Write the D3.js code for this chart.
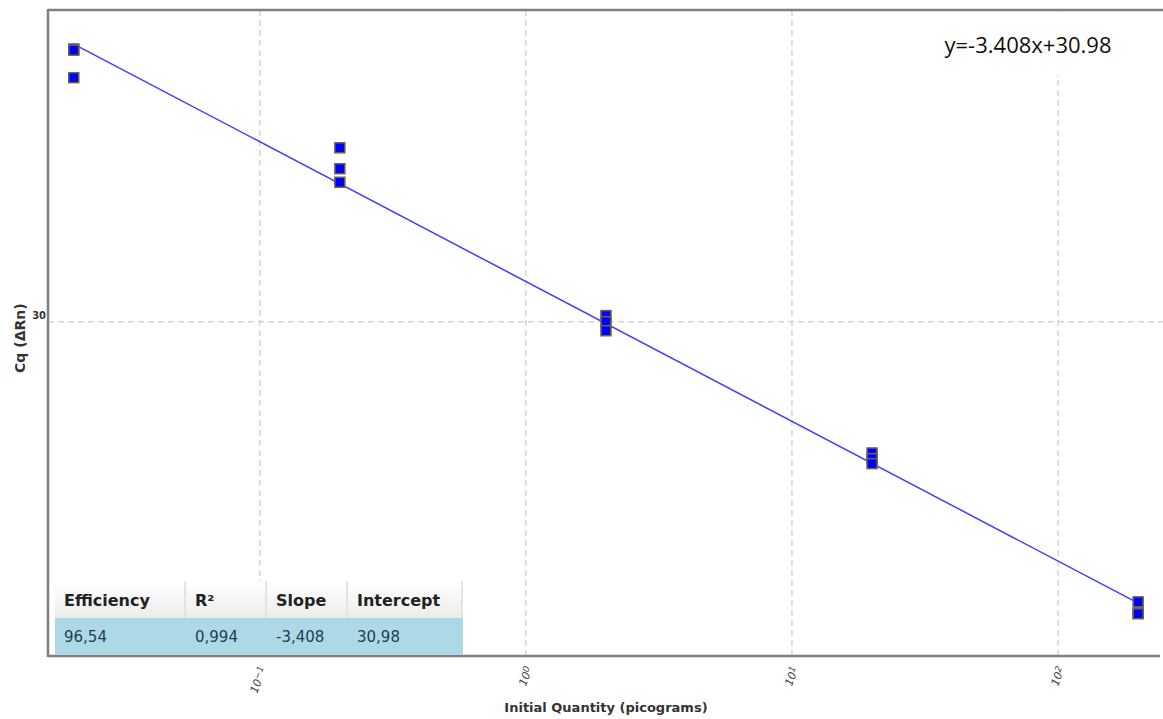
<!DOCTYPE html>
<html>
<head>
<meta charset="utf-8">
<script src="https://cdn.jsdelivr.net/npm/d3@7"></script>
<style>
  body { margin: 0; background: #fff; }
  svg { display: block; }
</style>
</head>
<body>
<script>
// Standard curve data (quantity in pg, Cq replicates)
var quantities = [0.02, 0.2, 2, 20, 200];
var cqValues = [
    [36.65, 36.62, 35.95],
    [34.24, 33.73, 33.40],
    [30.15, 30.00, 29.78],
    [26.80, 26.66, 26.54],
    [23.17, 22.90, 22.88]
];
var slope = -3.408;
var intercept = 30.98;
var xTicks = [0.1, 1, 10, 100];
var xTickExponents = ["\u22121", "0", "1", "2"];
var yTicks = [30];
var tableHeaders = ["Efficiency", "R\u00B2", "Slope", "Intercept"];
var tableValues = ["96,54", "0,994", "-3,408", "30,98"];
var equationText = "y=-3.408x+30.98";

var W = 1163, H = 719;
var margin = {top: 10, right: 0, bottom: 63, left: 48};

var svg = d3.select("body").append("svg")
    .attr("width", W)
    .attr("height", H);

var x = d3.scaleLog().domain([0.016, 248]).range([margin.left, W - margin.right]);
var y = d3.scaleLinear().domain([21.85, 37.6]).range([H - margin.bottom, margin.top]);

var plotBottom = H - margin.bottom;

// Grid lines
svg.selectAll(".vgrid")
    .data(xTicks)
    .enter().append("line")
    .attr("x1", function(d) { return x(d); })
    .attr("x2", function(d) { return x(d); })
    .attr("y1", margin.top)
    .attr("y2", plotBottom)
    .style("stroke", "#d4d4d4")
    .style("stroke-width", 1.5)
    .style("stroke-dasharray", "6,4");

svg.selectAll(".hgrid")
    .data(yTicks)
    .enter().append("line")
    .attr("x1", margin.left)
    .attr("x2", W)
    .attr("y1", function(d) { return y(d); })
    .attr("y2", function(d) { return y(d); })
    .style("stroke", "#d4d4d4")
    .style("stroke-width", 1.5)
    .style("stroke-dasharray", "6,4");

// Frame
svg.append("line")
    .attr("x1", margin.left).attr("x2", W)
    .attr("y1", margin.top).attr("y2", margin.top)
    .style("stroke", "#808080").style("stroke-width", 2.5);
svg.append("line")
    .attr("x1", margin.left).attr("x2", margin.left)
    .attr("y1", margin.top - 1).attr("y2", plotBottom + 1)
    .style("stroke", "#808080").style("stroke-width", 2.5);
svg.append("line")
    .attr("x1", margin.left).attr("x2", W - 3)
    .attr("y1", plotBottom).attr("y2", plotBottom)
    .style("stroke", "#808080").style("stroke-width", 2.5);

// Regression line
var lineData = [quantities[0], quantities[quantities.length - 1]].map(function(q) {
    return {q: q, cq: slope * Math.log10(q) + intercept};
});
svg.append("path")
    .datum(lineData)
    .attr("d", d3.line()
        .x(function(d) { return x(d.q); })
        .y(function(d) { return y(d.cq); }))
    .style("fill", "none")
    .style("stroke", "#3f3fff")
    .style("stroke-width", 1.5);

// Points
var points = [];
quantities.forEach(function(q, i) {
    cqValues[i].forEach(function(c) { points.push({q: q, cq: c}); });
});
svg.selectAll(".pt")
    .data(points)
    .enter().append("rect")
    .attr("x", function(d) { return x(d.q) - 5; })
    .attr("y", function(d) { return y(d.cq) - 5; })
    .attr("width", 10)
    .attr("height", 10)
    .style("fill", "#0000ff")
    .style("stroke", "#6e6547")
    .style("stroke-width", 1.5);

// Y tick labels
svg.selectAll(".ylab")
    .data(yTicks)
    .enter().append("text")
    .attr("x", margin.left - 2)
    .attr("y", function(d) { return y(d) - 3; })
    .attr("text-anchor", "end")
    .style("font-family", "DejaVu Sans Condensed, DejaVu Sans, sans-serif")
    .style("font-size", "11px")
    .style("font-weight", "bold")
    .style("fill", "#333")
    .text(function(d) { return d; });

// X tick labels (rotated)
var xlab = svg.selectAll(".xlab")
    .data(xTicks)
    .enter().append("text")
    .attr("transform", function(d) { return "translate(" + (x(d) + 3) + "," + (plotBottom + 11) + ") rotate(-70)"; })
    .attr("text-anchor", "end")
    .attr("dy", "0.35em")
    .style("font-family", "DejaVu Sans, sans-serif")
    .style("font-size", "11px")
    .style("font-style", "italic")
    .style("fill", "#444");
xlab.append("tspan").text("10");
xlab.append("tspan")
    .attr("dy", "-0.3em")
    .style("font-size", "9px")
    .text(function(d, i) { return xTickExponents[i]; });

// Axis titles
svg.append("text")
    .attr("x", x(2))
    .attr("y", 712)
    .attr("text-anchor", "middle")
    .style("font-family", "DejaVu Sans, sans-serif")
    .style("font-size", "13px")
    .style("font-weight", "bold")
    .style("fill", "#333")
    .text("Initial Quantity (picograms)");

svg.append("text")
    .attr("transform", "translate(25," + y(29.6) + ") rotate(-90)")
    .attr("text-anchor", "middle")
    .style("font-family", "DejaVu Sans, sans-serif")
    .style("font-size", "14px")
    .style("font-weight", "bold")
    .style("fill", "#333")
    .text("Cq (\u0394Rn)");

// Stats table
var colX = [55, 186, 267, 348];
var colW = [131, 81, 81, 115];
var headerTop = 581, headerH = 37, rowH = 37;

var grad = svg.append("defs").append("linearGradient")
    .attr("id", "hdr").attr("x1", 0).attr("x2", 0).attr("y1", 0).attr("y2", 1);
grad.append("stop").attr("offset", "0%").attr("stop-color", "#ffffff");
grad.append("stop").attr("offset", "100%").attr("stop-color", "#ececec");

var header = svg.selectAll(".hdr")
    .data(tableHeaders)
    .enter().append("g");
header.append("rect")
    .attr("x", function(d, i) { return colX[i]; })
    .attr("y", headerTop)
    .attr("width", function(d, i) { return colW[i]; })
    .attr("height", headerH)
    .style("fill", "url(#hdr)");
header.append("line")
    .attr("x1", function(d, i) { return colX[i] + colW[i] - 1; })
    .attr("x2", function(d, i) { return colX[i] + colW[i] - 1; })
    .attr("y1", headerTop)
    .attr("y2", headerTop + headerH)
    .style("stroke", "#e4e4e4")
    .style("stroke-width", 2);
header.append("text")
    .attr("x", function(d, i) { return colX[i] + 9; })
    .attr("y", headerTop + 25)
    .style("font-family", "DejaVu Sans, sans-serif")
    .style("font-size", "16px")
    .style("font-weight", "bold")
    .style("fill", "#222")
    .text(function(d) { return d; });

svg.append("rect")
    .attr("x", colX[0])
    .attr("y", headerTop + headerH)
    .attr("width", colX[3] + colW[3] - colX[0])
    .attr("height", rowH)
    .style("fill", "#add8e6");

svg.selectAll(".val")
    .data(tableValues)
    .enter().append("text")
    .attr("x", function(d, i) { return colX[i] + 9; })
    .attr("y", headerTop + headerH + 24)
    .style("font-family", "DejaVu Sans, sans-serif")
    .style("font-size", "15px")
    .style("fill", "#1f3f4f")
    .text(function(d) { return d; });

// Equation box
svg.append("rect")
    .attr("x", 920)
    .attr("y", 12)
    .attr("width", W - 920)
    .attr("height", 63)
    .style("fill", "#fff");
svg.append("text")
    .attr("x", 1028)
    .attr("y", 53)
    .attr("text-anchor", "middle")
    .style("font-family", "Open Sans, sans-serif")
    .style("font-size", "22px")
    .style("fill", "#111")
    .text(equationText);
</script>
</body>
</html>
